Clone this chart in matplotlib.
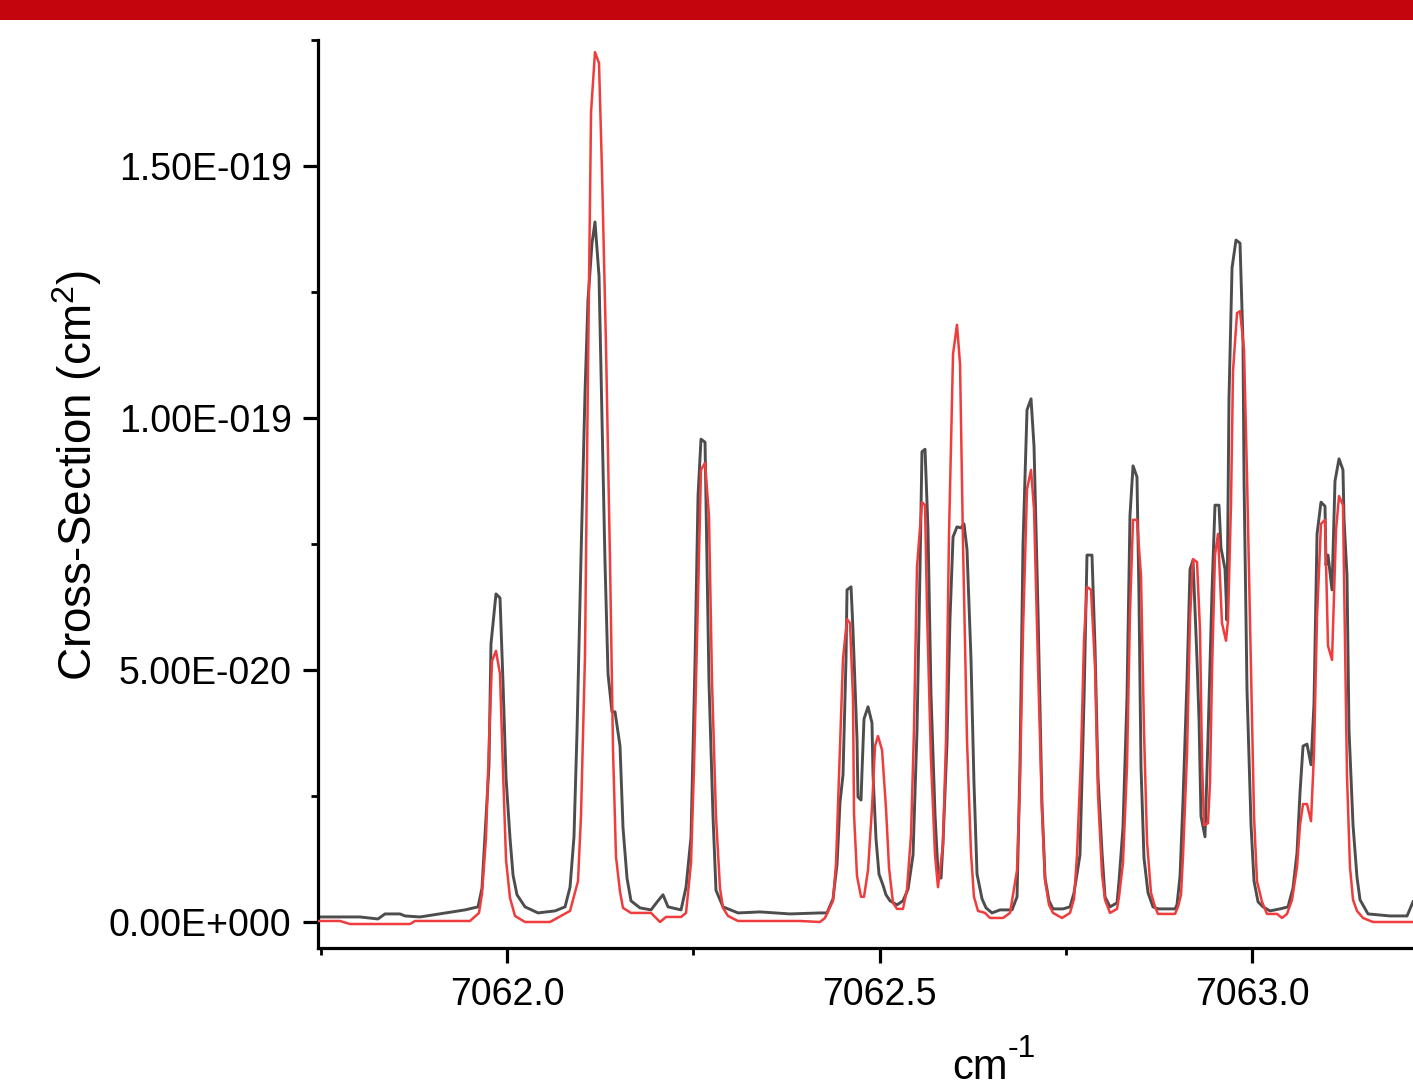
import matplotlib
matplotlib.use("Agg")
import matplotlib.pyplot as plt
from matplotlib.ticker import MultipleLocator, FuncFormatter
from matplotlib.patches import Rectangle

plt.rcParams['font.family'] = ['Liberation Sans', 'DejaVu Sans']
plt.rcParams['mathtext.fontset'] = 'custom'
plt.rcParams['mathtext.rm'] = 'Liberation Sans'
plt.rcParams['mathtext.it'] = 'Liberation Sans'

UNIT = 1e-20  # values below are in units of 1e-20 cm^2

# Wavenumber (cm^-1) and cross-section for the dark (measured) series
x_black = [7061.7463, 7061.8027, 7061.8268, 7061.8362, 7061.8564, 7061.8631, 7061.8832,
           7061.9436, 7061.9611, 7061.9664, 7061.9758, 7061.9785, 7061.9852, 7061.9906,
           7061.9946, 7061.9987, 7062.0040, 7062.0081, 7062.0134, 7062.0242, 7062.0416,
           7062.0644, 7062.0779, 7062.0846, 7062.0899, 7062.0940, 7062.0993, 7062.1047,
           7062.1087, 7062.1141, 7062.1181, 7062.1235, 7062.1275, 7062.1315, 7062.1356,
           7062.1409, 7062.1450, 7062.1517, 7062.1557, 7062.1611, 7062.1664, 7062.1785,
           7062.1933, 7062.2027, 7062.2094, 7062.2161, 7062.2336, 7062.2403, 7062.2470,
           7062.2524, 7062.2564, 7062.2604, 7062.2658, 7062.2711, 7062.2765, 7062.2805,
           7062.2899, 7062.3101, 7062.3396, 7062.3799, 7062.4201, 7062.4295, 7062.4376,
           7062.4430, 7062.4470, 7062.4510, 7062.4550, 7062.4564, 7062.4618, 7062.4644,
           7062.4698, 7062.4711, 7062.4752, 7062.4765, 7062.4792, 7062.4846, 7062.4899,
           7062.4913, 7062.4953, 7062.4993, 7062.5047, 7062.5087, 7062.5141, 7062.5235,
           7062.5315, 7062.5383, 7062.5450, 7062.5503, 7062.5544, 7062.5570, 7062.5611,
           7062.5651, 7062.5691, 7062.5745, 7062.5785, 7062.5826, 7062.5852, 7062.5906,
           7062.5946, 7062.5987, 7062.6040, 7062.6094, 7062.6134, 7062.6174, 7062.6228,
           7062.6268, 7062.6309, 7062.6376, 7062.6430, 7062.6510, 7062.6617, 7062.6779,
           7062.6846, 7062.6886, 7062.6926, 7062.6980, 7062.7034, 7062.7074, 7062.7128,
           7062.7181, 7062.7222, 7062.7275, 7062.7329, 7062.7463, 7062.7557, 7062.7611,
           7062.7691, 7062.7745, 7062.7785, 7062.7852, 7062.7893, 7062.7933, 7062.7987,
           7062.8027, 7062.8094, 7062.8188, 7062.8215, 7062.8268, 7062.8322, 7062.8362,
           7062.8403, 7062.8456, 7062.8483, 7062.8510, 7062.8550, 7062.8604, 7062.8671,
           7062.8738, 7062.8966, 7062.8993, 7062.9034, 7062.9074, 7062.9128, 7062.9168,
           7062.9208, 7062.9262, 7062.9289, 7062.9315, 7062.9369, 7062.9409, 7062.9463,
           7062.9503, 7062.9557, 7062.9584, 7062.9638, 7062.9664, 7062.9691, 7062.9732,
           7062.9785, 7062.9839, 7062.9879, 7062.9893, 7062.9933, 7062.9987, 7063.0027,
           7063.0081, 7063.0148, 7063.0242, 7063.0376, 7063.0483, 7063.0550, 7063.0604,
           7063.0644, 7063.0685, 7063.0738, 7063.0792, 7063.0832, 7063.0873, 7063.0926,
           7063.0980, 7063.0993, 7063.1020, 7063.1074, 7063.1114, 7063.1168, 7063.1221,
           7063.1235, 7063.1275, 7063.1302, 7063.1356, 7063.1409, 7063.1450, 7063.1503,
           7063.1557, 7063.1852, 7063.2081, 7063.2121, 7063.2161]
y_black = [0.10, 0.10, 0.06, 0.16, 0.16, 0.12, 0.10,
           0.24, 0.30, 0.67, 3.10, 5.52, 6.51, 6.43,
           4.76, 2.86, 1.67, 0.93, 0.54, 0.30, 0.18,
           0.22, 0.30, 0.69, 1.69, 3.79, 7.22, 10.50,
           12.34, 13.47, 13.89, 12.82, 10.02, 7.16, 4.92,
           4.17, 4.17, 3.49, 1.87, 0.87, 0.42, 0.28,
           0.24, 0.42, 0.54, 0.30, 0.24, 0.69, 1.69,
           5.18, 8.45, 9.58, 9.52, 4.76, 2.10, 0.63,
           0.30, 0.18, 0.20, 0.16, 0.18, 0.18, 0.46,
           1.15, 2.38, 2.92, 5.20, 6.59, 6.65, 5.79,
           3.63, 2.48, 2.42, 2.98, 4.03, 4.27, 3.95,
           2.92, 1.65, 0.95, 0.73, 0.54, 0.42, 0.34,
           0.42, 0.65, 1.33, 3.79, 7.04, 9.33, 9.38,
           7.78, 4.52, 2.14, 0.99, 0.87, 1.57, 3.55,
           6.01, 7.64, 7.84, 7.82, 7.90, 7.40, 5.22,
           2.76, 0.95, 0.46, 0.28, 0.18, 0.24, 0.24,
           0.50, 3.17, 7.48, 10.16, 10.38, 9.44, 6.13,
           2.34, 0.87, 0.42, 0.26, 0.26, 0.30, 0.58,
           1.33, 4.40, 7.28, 7.28, 5.44, 2.88, 1.37,
           0.50, 0.30, 0.38, 0.81, 1.87, 4.46, 8.06,
           9.05, 8.83, 6.45, 3.08, 1.27, 0.58, 0.30,
           0.26, 0.26, 0.34, 0.91, 2.42, 4.82, 7.00,
           7.18, 5.20, 4.01, 2.10, 1.69, 3.63, 6.55,
           8.27, 8.27, 7.42, 7.00, 5.99, 10.38, 12.98,
           13.53, 13.47, 11.49, 8.77, 4.60, 1.92, 0.81,
           0.40, 0.30, 0.22, 0.26, 0.30, 0.67, 1.37,
           2.56, 3.49, 3.53, 3.12, 4.33, 7.70, 8.33,
           8.25, 7.08, 7.28, 6.59, 8.75, 9.19, 8.97,
           8.00, 6.87, 3.81, 1.92, 0.89, 0.44, 0.30,
           0.16, 0.12, 0.12, 0.26, 0.40]

# Red (calculated) series
x_red = [7061.7463, 7061.7758, 7061.7893, 7061.8698, 7061.8765, 7061.9503, 7061.9624,
         7061.9664, 7061.9718, 7061.9758, 7061.9799, 7061.9852, 7061.9906, 7061.9946,
         7061.9987, 7062.0040, 7062.0107, 7062.0242, 7062.0577, 7062.0725, 7062.0846,
         7062.0953, 7062.0993, 7062.1047, 7062.1087, 7062.1128, 7062.1181, 7062.1235,
         7062.1275, 7062.1329, 7062.1383, 7062.1423, 7062.1463, 7062.1517, 7062.1557,
         7062.1664, 7062.1933, 7062.2054, 7062.2134, 7062.2336, 7062.2403, 7062.2470,
         7062.2510, 7062.2564, 7062.2604, 7062.2658, 7062.2711, 7062.2752, 7062.2805,
         7062.2859, 7062.2899, 7062.2966, 7062.3101, 7062.3933, 7062.4201, 7062.4268,
         7062.4376, 7062.4416, 7062.4456, 7062.4510, 7062.4564, 7062.4604, 7062.4644,
         7062.4658, 7062.4698, 7062.4752, 7062.4792, 7062.4846, 7062.4899, 7062.4940,
         7062.4980, 7062.5034, 7062.5087, 7062.5128, 7062.5181, 7062.5235, 7062.5315,
         7062.5369, 7062.5423, 7062.5463, 7062.5503, 7062.5570, 7062.5611, 7062.5638,
         7062.5691, 7062.5745, 7062.5785, 7062.5852, 7062.5893, 7062.5933, 7062.5987,
         7062.6040, 7062.6081, 7062.6121, 7062.6174, 7062.6228, 7062.6268, 7062.6322,
         7062.6416, 7062.6483, 7062.6658, 7062.6752, 7062.6846, 7062.6886, 7062.6926,
         7062.6980, 7062.7034, 7062.7074, 7062.7128, 7062.7181, 7062.7222, 7062.7275,
         7062.7329, 7062.7450, 7062.7557, 7062.7611, 7062.7651, 7062.7705, 7062.7745,
         7062.7785, 7062.7839, 7062.7893, 7062.7933, 7062.7987, 7062.8027, 7062.8094,
         7062.8188, 7062.8215, 7062.8268, 7062.8322, 7062.8362, 7062.8403, 7062.8456,
         7062.8510, 7062.8550, 7062.8591, 7062.8644, 7062.8698, 7062.8738, 7062.8966,
         7062.9007, 7062.9047, 7062.9074, 7062.9128, 7062.9168, 7062.9208, 7062.9262,
         7062.9302, 7062.9329, 7062.9356, 7062.9409, 7062.9436, 7062.9463, 7062.9503,
         7062.9544, 7062.9597, 7062.9651, 7062.9678, 7062.9718, 7062.9745, 7062.9799,
         7062.9839, 7062.9893, 7062.9933, 7062.9987, 7063.0027, 7063.0067, 7063.0134,
         7063.0201, 7063.0336, 7063.0403, 7063.0470, 7063.0537, 7063.0604, 7063.0644,
         7063.0685, 7063.0738, 7063.0792, 7063.0832, 7063.0873, 7063.0926, 7063.0980,
         7063.1020, 7063.1074, 7063.1128, 7063.1168, 7063.1221, 7063.1275, 7063.1315,
         7063.1356, 7063.1409, 7063.1490, 7063.1624, 7063.2161]
y_red = [0.02, 0.02, -0.04, -0.04, 0.02, 0.02, 0.18,
         0.56, 1.67, 3.55, 5.18, 5.38, 4.92, 3.02,
         1.23, 0.48, 0.12, 0.00, 0.00, 0.12, 0.22,
         0.81, 2.10, 5.30, 10.95, 16.07, 17.26, 17.04,
         14.90, 11.41, 7.12, 3.41, 1.29, 0.60, 0.28,
         0.18, 0.18, 0.00, 0.10, 0.10, 0.18, 1.17,
         3.06, 6.43, 8.97, 9.11, 8.06, 4.76, 2.10,
         0.67, 0.28, 0.12, 0.02, 0.02, 0.00, 0.08,
         0.42, 1.15, 2.88, 5.22, 6.01, 5.93, 4.44,
         2.14, 0.91, 0.50, 0.50, 1.03, 2.26, 3.49,
         3.69, 3.41, 2.26, 1.07, 0.38, 0.26, 0.26,
         0.65, 1.73, 3.83, 7.04, 8.33, 8.27, 6.17,
         3.21, 1.33, 0.69, 1.53, 3.63, 7.70, 11.27,
         11.85, 11.07, 7.48, 3.63, 1.37, 0.50, 0.22,
         0.18, 0.08, 0.08, 0.18, 1.03, 2.80, 5.75,
         8.59, 8.97, 8.19, 5.06, 2.22, 0.83, 0.34,
         0.18, 0.08, 0.18, 0.46, 1.33, 3.29, 5.60,
         6.65, 6.59, 5.06, 2.52, 0.95, 0.44, 0.18,
         0.26, 0.50, 1.17, 3.08, 6.13, 7.98, 7.98,
         6.87, 3.81, 1.59, 0.58, 0.30, 0.16, 0.16,
         0.30, 0.54, 1.31, 3.35, 6.03, 7.20, 7.14,
         5.79, 3.21, 1.92, 1.96, 2.76, 4.96, 7.28,
         7.70, 5.93, 5.58, 5.99, 8.29, 10.93, 12.08,
         12.12, 11.35, 8.85, 4.96, 2.10, 0.81, 0.40,
         0.16, 0.16, 0.08, 0.16, 0.44, 1.09, 1.92,
         2.34, 2.34, 2.00, 3.35, 6.07, 7.90, 7.98,
         5.48, 5.20, 7.78, 8.45, 8.27, 2.90, 1.09,
         0.44, 0.22, 0.08, 0.00, 0.00]

x_ticks = [7062.0, 7062.5, 7063.0]
y_ticks = [0.0, 5e-20, 1e-19, 1.5e-19]
x_label = 'cm'
x_label_sup = '-1'
y_label = 'Cross-Section (cm$^{2}$)'

W, H = 1413, 1087
fig = plt.figure(figsize=(W / 100, H / 100), dpi=100)
fig.patch.set_facecolor('white')

# red band at top
fig.patches.append(Rectangle((0, 1 - 20 / H), 1, 20 / H, transform=fig.transFigure,
                             facecolor='#C4050E', edgecolor='none', zorder=0))

ax = fig.add_axes([318 / W, (H - 948) / H, (W - 318) / W, (948 - 40) / H])
ax.plot(x_black, [v * UNIT for v in y_black], color='#4D4D4D', lw=2.1, zorder=2)
ax.plot(x_red, [v * UNIT for v in y_red], color='#F03C3C', lw=1.8, zorder=3)

ax.set_xlim(7061.7463, 7063.2161)
ax.set_ylim(-5.16e-21, 1.75e-19)

for s in ['top', 'right']:
    ax.spines[s].set_visible(False)
for s in ['left', 'bottom']:
    ax.spines[s].set_linewidth(2.3)

ax.set_xticks(x_ticks)
ax.set_yticks(y_ticks)
ax.xaxis.set_minor_locator(MultipleLocator(0.25))
ax.yaxis.set_minor_locator(MultipleLocator(2.5e-20))


def fmt(v, pos):
    if abs(v) < 1e-30:
        return '0.00E+000'
    m, e = f"{v:.2E}".split('E')
    return f"{m}E{int(e):+04d}"


ax.yaxis.set_major_formatter(FuncFormatter(fmt))
ax.xaxis.set_major_formatter(FuncFormatter(lambda v, p: f"{v:.1f}"))

ax.tick_params(axis='both', which='major', direction='out', length=11, width=2.3,
               labelsize=27, color='black')
ax.tick_params(axis='y', which='major', pad=8)
ax.tick_params(axis='x', which='major', pad=10)
ax.tick_params(axis='both', which='minor', direction='out', length=5, width=2.0)

ax.set_ylabel(y_label, fontsize=33)
ax.yaxis.set_label_coords((104 - 318) / (W - 318), (948 - 475) / (948 - 40))

fig.text(952 / W, 1 - 1079 / H, x_label, fontsize=30, ha='left', va='baseline')
fig.text(1008 / W, 1 - 1057 / H, x_label_sup, fontsize=23, ha='left', va='baseline')

fig.savefig('out.png', dpi=100, facecolor='white')
